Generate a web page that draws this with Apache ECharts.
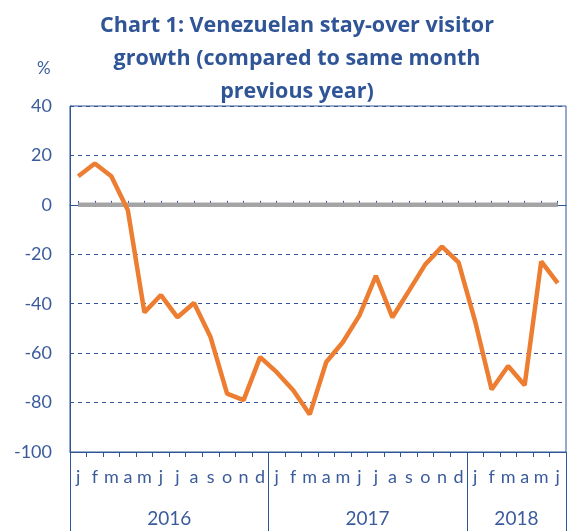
<!DOCTYPE html>
<html lang="en">
<head>
    <meta charset="UTF-8">
    <title>Chart 1</title>
    <script src="https://cdn.jsdelivr.net/npm/echarts@6/dist/echarts.min.js"></script>
    <style>
        html, body { margin: 0; padding: 0; background: #fff; }
        #chart { width: 567px; height: 531px; }
    </style>
</head>
<body>
<div id="chart"></div>
<script>
    // months: 2016 and 2017 full, 2018 up to june
    var months = ['j','f','m','a','m','j','j','a','s','o','n','d',
                  'j','f','m','a','m','j','j','a','s','o','n','d',
                  'j','f','m','a','m','j'];
    var years = ['2016', '2017', '2018'];
    var yearCentres = [6, 18, 27];
    var yearBounds = [0, 12, 24, 30];

    // growth vs same month previous year, %
    var growth = [11.6, 16.7, 11.6, -2.2, -43.5, -36.5, -45.5, -39.7, -53.5, -76.4, -79, -61.6,
                  -67.7, -75, -84.8, -63.6, -55.6, -44.8, -28.7, -45.5, -34.8, -24, -16.9, -23.3,
                  -47, -74.7, -65.2, -73, -22.9, -31.7];
    var zeroLine = [0, 0, 0, 0, 0, 0, 0, 0, 0, 0, 0, 0,
                    0, 0, 0, 0, 0, 0, 0, 0, 0, 0, 0, 0,
                    0, 0, 0, 0, 0, 0];

    var blue = '#2F5597';
    var labelBlue = '#3B5C9C';
    var font = 'Lato';

    var myChart = echarts.init(document.getElementById('chart'));

    var option = {
        animation: false,
        title: {
            text: 'Chart 1: Venezuelan stay-over visitor\ngrowth (compared to same month\nprevious year)',
            left: 292,
            top: 4,
            textAlign: 'center',
            textStyle: {
                color: blue,
                fontFamily: 'Open Sans',
                fontWeight: 'bold',
                fontSize: 21.5,
                lineHeight: 33
            }
        },
        graphic: [{
            type: 'text',
            left: 37,
            top: 60,
            style: { text: '%', fill: labelBlue, font: '17px Lato' }
        }],
        grid: {
            left: 70,
            right: 1,
            top: 106,
            bottom: 79,
            show: true,
            borderColor: blue,
            borderWidth: 1
        },
        xAxis: [{
            type: 'category',
            data: months,
            boundaryGap: true,
            axisLine: { onZero: false, lineStyle: { color: blue } },
            axisTick: { show: true, interval: 0, length: 5, lineStyle: { color: blue } },
            axisLabel: { interval: 0, margin: 16, color: labelBlue, fontFamily: font, fontSize: 18 }
        }, {
            // axis crossing at zero
            type: 'category',
            data: months,
            boundaryGap: true,
            axisLine: { onZero: true, lineStyle: { color: blue } },
            axisTick: { show: true, interval: 0, alignWithLabel: true, length: 4, lineStyle: { color: blue } },
            axisLabel: { show: false }
        }, {
            // year bands
            type: 'value',
            min: 0,
            max: 30,
            position: 'bottom',
            splitLine: { show: false },
            axisLine: { show: false, onZero: false },
            axisTick: { show: true, customValues: yearBounds, length: 90, lineStyle: { color: blue } },
            axisLabel: {
                customValues: yearCentres,
                margin: 57,
                color: labelBlue,
                fontFamily: font,
                fontSize: 19,
                formatter: function (v) { return years[yearCentres.indexOf(v)]; }
            }
        }],
        yAxis: {
            type: 'value',
            min: -100,
            max: 40,
            interval: 20,
            axisLine: { show: true, lineStyle: { color: blue } },
            axisTick: { show: false },
            axisLabel: { margin: 18, color: labelBlue, fontFamily: font, fontSize: 18 },
            splitLine: { lineStyle: { color: blue, type: [4, 4], width: 1 } }
        },
        series: [{
            name: 'zero',
            type: 'line',
            data: zeroLine,
            symbol: 'none',
            lineStyle: { color: '#A5A5A5', width: 4.5 }
        }, {
            name: 'growth',
            type: 'line',
            data: growth,
            symbol: 'none',
            lineStyle: { color: '#ED7D31', width: 4.5 }
        }]
    };

    myChart.setOption(option);
</script>
</body>
</html>
